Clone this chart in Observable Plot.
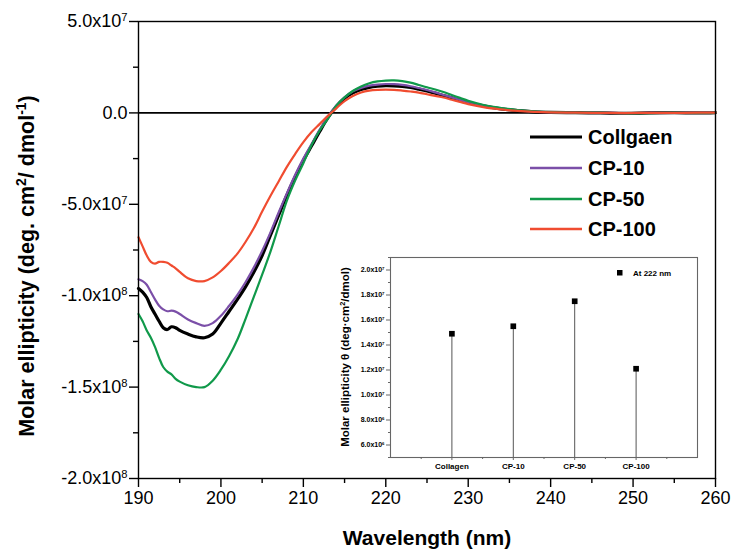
<!DOCTYPE html>
<html>
<head>
<meta charset="utf-8">
<script src="https://cdn.jsdelivr.net/npm/d3@7"></script>
<script src="https://cdn.jsdelivr.net/npm/@observablehq/plot@0.6"></script>
<style>
  html, body { margin: 0; padding: 0; background: #fff; }
  #wrap { position: relative; width: 731px; height: 550px; }
  #inset { position: absolute; left: 335px; top: 250px; }
  svg { overflow: visible; }
</style>
</head>
<body>
<div id="wrap"><div id="main"></div><div id="inset"></div></div>
<script>
// ---------- DATA ----------
const wavelengths = [190,190.5,191,191.5,192,192.5,193,193.5,194,194.5,195,196,197,198,199,200,201,202,203,204,205,206,207,208,209,210,211,212,213,214,215,216,217,218,219,220,221,222,223,224,225,226,227,228,229,230,232,234,236,238,240,243,246,249,252,255,258,260];

const collagen = [-96e6,-98e6,-101e6,-106e6,-110e6,-114e6,-117.5e6,-118.5e6,-117e6,-117.5e6,-119e6,-121e6,-122.5e6,-123e6,-121e6,-115e6,-108.5e6,-102e6,-95e6,-87e6,-78e6,-67e6,-56e6,-45e6,-35e6,-26e6,-18e6,-10e6,-2.5e6,3.5e6,8e6,11e6,12.8e6,14e6,14.6e6,14.9e6,14.8e6,14.5e6,13.9e6,13e6,12e6,10.8e6,9.5e6,8.2e6,6.9e6,5.7e6,3.7e6,2.2e6,1.2e6,0.6e6,0.3e6,0.1e6,0,-0.2e6,0,0.1e6,0,0.2e6];

const cp10 = [-91e6,-92e6,-94e6,-98e6,-102e6,-105.5e6,-107.5e6,-108.5e6,-108.2e6,-108.7e6,-110e6,-113e6,-115e6,-116.5e6,-115e6,-111e6,-105.5e6,-99.5e6,-92.5e6,-84.5e6,-75.5e6,-65.5e6,-54.5e6,-44e6,-34e6,-25e6,-17e6,-9e6,-2e6,4e6,8.5e6,11.8e6,13.7e6,14.9e6,15.5e6,15.8e6,15.7e6,15.3e6,14.6e6,13.6e6,12.5e6,11.2e6,9.8e6,8.5e6,7.1e6,5.9e6,3.9e6,2.4e6,1.3e6,0.7e6,0.3e6,0.1e6,0.1e6,-0.1e6,0,0.1e6,0.1e6,0.2e6];

const cp50 = [-110e6,-114e6,-119e6,-123e6,-128e6,-134e6,-139e6,-141.5e6,-143e6,-145.5e6,-147e6,-149e6,-150e6,-150e6,-146.5e6,-140.5e6,-133e6,-124e6,-112.5e6,-100.5e6,-88.5e6,-76e6,-62e6,-48e6,-37e6,-27.5e6,-17.5e6,-9.5e6,-3e6,4e6,8.5e6,12e6,14.5e6,16.2e6,17.2e6,17.7e6,17.8e6,17.4e6,16.6e6,15.3e6,14e6,12.8e6,11.4e6,9.8e6,8.2e6,6.6e6,4.2e6,2.7e6,1.6e6,0.8e6,0.4e6,0.2e6,0.1e6,-0.2e6,-0.1e6,0.1e6,0,0.2e6];

const cp100 = [-68e6,-73e6,-78e6,-81.5e6,-82.5e6,-81.5e6,-81.5e6,-82e6,-83.5e6,-85e6,-87e6,-90.5e6,-92e6,-92e6,-90e6,-86.5e6,-82e6,-77e6,-70.5e6,-63e6,-54e6,-45.5e6,-37.5e6,-29.5e6,-22.5e6,-16e6,-10.5e6,-6e6,-1.5e6,2.5e6,6.5e6,9.3e6,11.2e6,12.2e6,12.6e6,12.7e6,12.6e6,12.2e6,11.7e6,11.1e6,10.2e6,9.3e6,8.4e6,7.2e6,6e6,4.8e6,3e6,1.9e6,1.1e6,0.6e6,0.3e6,0.1e6,0,-0.1e6,0,0,0.1e6,0.2e6];

const seriesNames = ["Collgaen", "CP-10", "CP-50", "CP-100"];
const seriesColors = ["#000000", "#7b4fa8", "#10994a", "#f04c30"];

const xDomain = [190, 260];
const yDomain = [-2e8, 5e7];
const xTicks = [190, 200, 210, 220, 230, 240, 250, 260];
const xMinorTicks = [195, 205, 215, 225, 235, 245, 255];
const yTicks = [-2e8, -1.5e8, -1e8, -5e7, 0, 5e7];
const yTickLabels = ["-2.0x10^8", "-1.5x10^8", "-1.0x10^8", "-5.0x10^7", "0.0", "5.0x10^7"];
const yMinorTicks = [-1.75e8, -1.25e8, -7.5e7, -2.5e7, 2.5e7];

// inset
const insetCategories = ["Collagen", "CP-10", "CP-50", "CP-100"];
const insetValues = [1.49e7, 1.55e7, 1.75e7, 1.21e7];
const insetXDomain = [0, 5];
const insetYDomain = [5e6, 2.1e7];
const insetYTicks = [6e6, 8e6, 1e7, 1.2e7, 1.4e7, 1.6e7, 1.8e7, 2e7];
const insetYTickLabels = ["6.0x10^6", "8.0x10^6", "1.0x10^7", "1.2x10^7", "1.4x10^7", "1.6x10^7", "1.8x10^7", "2.0x10^7"];
const insetYMinorTicks = [5e6, 7e6, 9e6, 1.1e7, 1.3e7, 1.5e7, 1.7e7, 1.9e7, 2.1e7];
const insetXMinorTicks = [0.5, 1.5, 2.5, 3.5, 4.5];
const insetLegendLabel = "At 222 nm";

// ---------- BUILD ----------
const seriesValues = [collagen, cp10, cp50, cp100];
const table = seriesNames.flatMap((s, i) => wavelengths.map((w, j) => ({w, v: seriesValues[i][j], s})));
const FONT = '"Liberation Sans", Arial, Helvetica, sans-serif';

const main = Plot.plot({
  width: 731, height: 550,
  marginLeft: 138, marginRight: 16, marginTop: 21, marginBottom: 72,
  style: {fontFamily: FONT, fontSize: "18px", color: "#000", background: "transparent"},
  x: {domain: xDomain, label: null},
  y: {domain: yDomain, label: null},
  color: {domain: seriesNames, range: seriesColors},
  marks: [
    Plot.ruleY([0], {stroke: "#000", strokeWidth: 1.6}),
    Plot.line(table.filter(d => d.s === "Collgaen"), {x: "w", y: "v", stroke: "s", strokeWidth: 3.2, curve: "catmull-rom"}),
    Plot.line(table.filter(d => d.s !== "Collgaen"), {x: "w", y: "v", z: "s", stroke: "s", strokeWidth: 2.2, curve: "catmull-rom"}),
    Plot.frame({stroke: "#000", strokeWidth: 1.4}),
    Plot.axisX({ticks: xTicks, tickSize: 9, tickPadding: 4, strokeWidth: 1.4, tickFormat: d => String(d)}),
    Plot.axisX({ticks: xMinorTicks, tickSize: 5, strokeWidth: 1.4, tickFormat: () => ""}),
    Plot.axisY({ticks: yTicks, tickSize: 9, tickPadding: 2, strokeWidth: 1.4, tickFormat: d => yTickLabels[yTicks.indexOf(d)]}),
    Plot.axisY({ticks: yMinorTicks, tickSize: 5, strokeWidth: 1.4, tickFormat: () => ""})
  ]
});
document.getElementById("main").appendChild(main);

function superscriptTicks(svg) {
  d3.select(svg).selectAll("text").each(function () {
    const t = this.textContent;
    if (t.includes("^")) {
      const [base, exp] = t.split("^");
      const sel = d3.select(this);
      sel.text(null);
      sel.append("tspan").text(base);
      sel.append("tspan").attr("font-size", "0.62em").attr("dy", "-0.55em").text(exp);
    }
  });
}
superscriptTicks(main);

const ms = d3.select(main);
// y title
const yt = ms.append("text")
  .attr("transform", "translate(34,266) rotate(-90)")
  .attr("text-anchor", "middle")
  .attr("font-family", FONT).attr("font-weight", "bold").attr("font-size", 21.5).attr("fill", "#000");
yt.append("tspan").text("Molar ellipticity (deg. cm");
yt.append("tspan").attr("font-size", "0.65em").attr("dy", "-0.6em").text("2");
yt.append("tspan").attr("dy", "0.39em").text("/ dmol");
yt.append("tspan").attr("font-size", "0.65em").attr("dy", "-0.6em").text("-1");
yt.append("tspan").attr("dy", "0.39em").text(")");
// x title
ms.append("text").attr("x", 427).attr("y", 545).attr("text-anchor", "middle")
  .attr("font-family", FONT).attr("font-weight", "bold").attr("font-size", 21).attr("fill", "#000")
  .text("Wavelength (nm)");
// legend
const legendY = [137, 168, 199, 229];
seriesNames.forEach((s, i) => {
  ms.append("line").attr("x1", 530).attr("x2", 582).attr("y1", legendY[i]).attr("y2", legendY[i])
    .attr("stroke", seriesColors[i]).attr("stroke-width", i === 0 ? 3.2 : 2.4);
  ms.append("text").attr("x", 588).attr("y", legendY[i]).attr("dy", "0.36em")
    .attr("text-anchor", "start")
    .attr("font-family", FONT).attr("font-weight", "bold").attr("font-size", 20).attr("fill", "#000")
    .text(s);
});

// ---------- INSET ----------
const insetData = insetCategories.map((c, i) => ({i: i + 1, c, v: insetValues[i]}));
const inset = Plot.plot({
  width: 367, height: 225,
  marginLeft: 55, marginRight: 5, marginTop: 7, marginBottom: 18,
  style: {fontFamily: FONT, fontSize: "7px", fontWeight: "bold", color: "#000", background: "#fff"},
  x: {domain: insetXDomain, label: null},
  y: {domain: insetYDomain, label: null},
  marks: [
    Plot.ruleX(insetData, {x: "i", y1: insetYDomain[0], y2: "v", stroke: "#555", strokeWidth: 1}),
    Plot.dot(insetData, {x: "i", y: "v", symbol: "square", r: 3.2, fill: "#000", stroke: null}),
    Plot.frame({stroke: "#666", strokeWidth: 1.1}),
    Plot.axisX({ticks: [1, 2, 3, 4], tickSize: 3, tickPadding: 3, stroke: "#666", fontSize: 8, tickFormat: d => insetCategories[d - 1]}),
    Plot.axisX({ticks: insetXMinorTicks, tickSize: 2, stroke: "#666", tickFormat: () => ""}),
    Plot.axisY({ticks: insetYTicks, tickSize: 4, tickPadding: 2, stroke: "#666", tickFormat: d => insetYTickLabels[insetYTicks.indexOf(d)]}),
    Plot.axisY({ticks: insetYMinorTicks, tickSize: 2, stroke: "#666", tickFormat: () => ""})
  ]
});
document.getElementById("inset").appendChild(inset);
superscriptTicks(inset);
const is = d3.select(inset);
const iyt = is.append("text")
  .attr("transform", "translate(14,107) rotate(-90)")
  .attr("text-anchor", "middle")
  .attr("font-family", FONT).attr("font-weight", "bold").attr("font-size", 11.5).attr("fill", "#000");
iyt.append("tspan").text("Molar ellipticity \u03b8 (deg\u00b7cm");
iyt.append("tspan").attr("font-size", "0.65em").attr("dy", "-0.6em").text("2");
iyt.append("tspan").attr("dy", "0.39em").text("/dmol)");
// inset legend
is.append("rect").attr("x", 282).attr("y", 20).attr("width", 5.5).attr("height", 5.5).attr("fill", "#000");
is.append("text").attr("x", 298).attr("y", 23).attr("dy", "0.35em")
  .attr("text-anchor", "start")
  .attr("font-family", FONT).attr("font-weight", "bold").attr("font-size", 8).attr("fill", "#000")
  .text(insetLegendLabel);
</script>
</body>
</html>
